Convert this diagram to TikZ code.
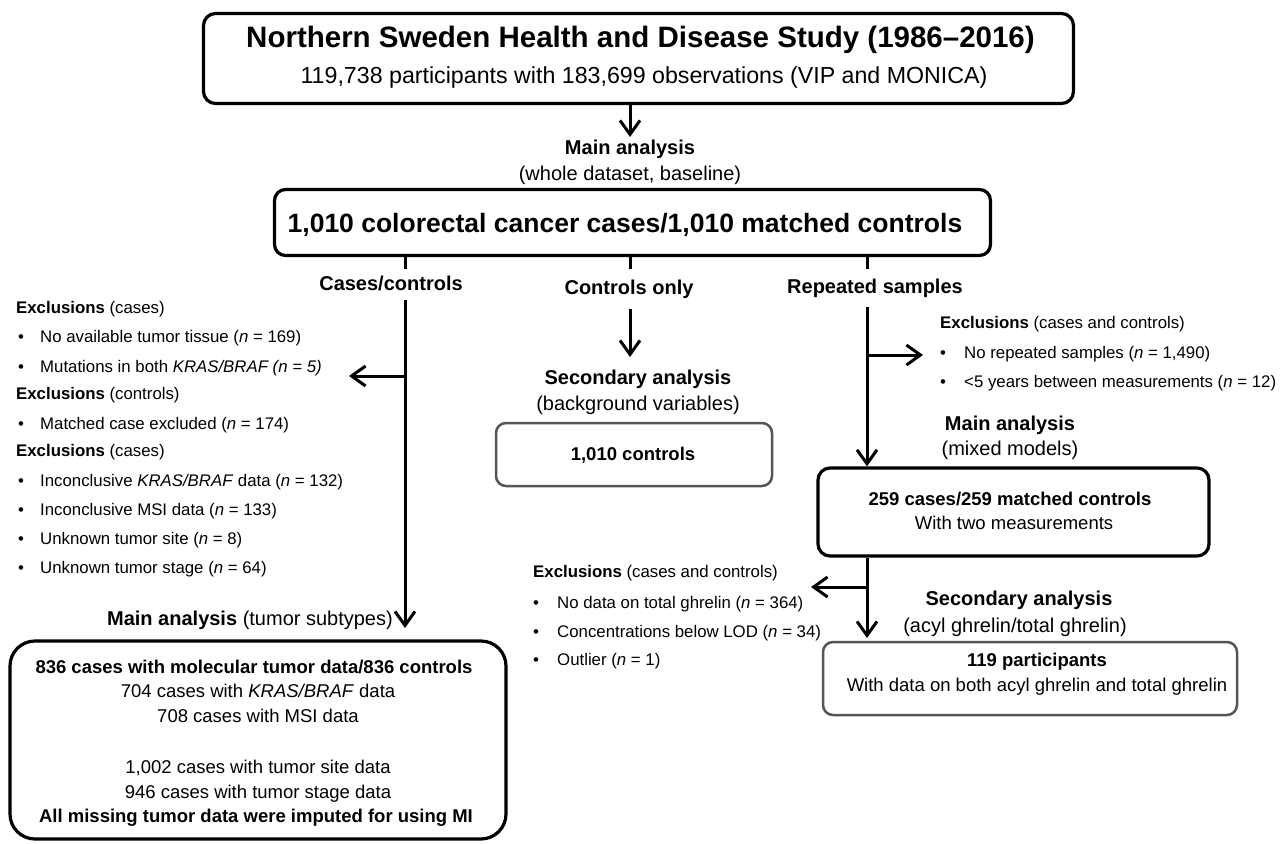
\documentclass[tikz,border=0pt]{standalone}
\usepackage{fontspec}
\setmainfont{Liberation Sans}
\usetikzlibrary{arrows.meta}
\definecolor{boxgray}{RGB}{85,85,85}
\newcommand\fsTitle{\fontsize{29.5}{34}\selectfont\bfseries}
\newcommand\fsSub{\fontsize{23.2}{28}\selectfont}
\newcommand\fsCoh{\fontsize{26.5}{30}\selectfont\bfseries}
\newcommand\fsLbl{\fontsize{20}{24}\selectfont}
\newcommand\fsExc{\fontsize{16.8}{20}\selectfont}
\newcommand\fsBox{\fontsize{18.5}{22}\selectfont}
% bullet item: name, bullet x, text x, baseline y, text
\newcommand\bitem[5]{%
  \node[exc,anchor=base] (#1b) at (#2,#4) {\textbullet};
  \node[exc,anchor=base west] (#1) at (#3,#4) {#5};}
\begin{document}
\begin{tikzpicture}[x=1pt,y=-1pt,
  box/.style={draw=black, line width=3.2pt, inner sep=0pt},
  gbox/.style={draw=boxgray, line width=2.5pt, inner sep=0pt, rounded corners=10pt},
  conn/.style={line width=3pt},
  arr/.style={conn,-{Straight Barb[length=14pt,width=20pt]}},
  exc/.style={font=\fsExc, inner sep=0pt},
  lbl/.style={font=\fsLbl, inner sep=0pt, anchor=base},
  btxt/.style={font=\fsBox, inner sep=0pt, anchor=base}]
\useasboundingbox (0,0) rectangle (1281,843);

% ---------- boxes ----------
\node[box, rounded corners=12pt, minimum width=870pt, minimum height=90pt] (top) at (638.5,58.5) {};
\node[inner sep=0pt, anchor=base, font=\fsTitle] (title) at (640.5,48) {Northern Sweden Health and Disease Study (1986--2016)};
\node[inner sep=0pt, anchor=base, font=\fsSub] (subtitle) at (644,83) {119,738 participants with 183,699 observations (VIP and MONICA)};

\node[box, rounded corners=11pt, minimum width=716pt, minimum height=66pt] (cohort) at (632.5,222.5) {};
\node[inner sep=0pt, anchor=base, font=\fsCoh] (cohorttxt) at (625,232) {1,010 colorectal cancer cases/1,010 matched controls};

\node[gbox, minimum width=276pt, minimum height=63pt] (ctrl) at (634,454.5) {};
\node[btxt, font=\fsBox\bfseries] (ctrltxt) at (633,460) {1,010 controls};

\node[box, rounded corners=12pt, minimum width=391pt, minimum height=88pt] (rep) at (1013.5,512) {};
\node[btxt, font=\fsBox\bfseries] (rep1) at (1010,505) {259 cases/259 matched controls};
\node[btxt] (rep2) at (1014,529) {With two measurements};

\node[gbox, minimum width=414pt, minimum height=73pt] (acyl) at (1030,678.5) {};
\node[btxt, font=\fsBox\bfseries] (acyl1) at (1037,666) {119 participants};
\node[btxt] (acyl2) at (1037,691) {With data on both acyl ghrelin and total ghrelin};

\node[box, rounded corners=25pt, minimum width=496pt, minimum height=198pt] (tum) at (258,740) {};
\node[btxt, font=\fsBox\bfseries] (tum1) at (254,673) {836 cases with molecular tumor data/836 controls};
\node[btxt] (tum2) at (258,697) {704 cases with \textit{KRAS/BRAF} data};
\node[btxt] (tum3) at (258,722) {708 cases with MSI data};
\node[btxt] (tum4) at (258,773) {1,002 cases with tumor site data};
\node[btxt] (tum5) at (258,798) {946 cases with tumor stage data};
\node[btxt, font=\fsBox\bfseries] (tum6) at (256,822) {All missing tumor data were imputed for using MI};

% ---------- labels ----------
\node[lbl, font=\fsLbl\bfseries] (mainlbl) at (630,154) {Main analysis};
\node[lbl] (mainsub) at (630,180) {(whole dataset, baseline)};
\node[lbl, font=\fsLbl\bfseries] (cc) at (391,290) {Cases/controls};
\node[lbl, font=\fsLbl\bfseries] (co) at (629,294) {Controls only};
\node[lbl, font=\fsLbl\bfseries] (rs) at (875,293) {Repeated samples};
\node[lbl, font=\fsLbl\bfseries] (sec1) at (638,384) {Secondary analysis};
\node[lbl] (sec1sub) at (638,410) {(background variables)};
\node[lbl, font=\fsLbl\bfseries] (ma2) at (1010,430) {Main analysis};
\node[lbl] (ma2sub) at (1010,455) {(mixed models)};
\node[lbl, font=\fsLbl\bfseries] (sec2) at (1019,605) {Secondary analysis};
\node[lbl] (sec2sub) at (1015,632) {(acyl ghrelin/total ghrelin)};
\node[lbl, anchor=base east] (tumlbl) at (393,625) {\textbf{Main analysis} (tumor subtypes)};

% ---------- exclusions (left) ----------
\node[exc, anchor=base west] (exL1) at (16,313) {\textbf{Exclusions} (cases)};
\bitem{eL1}{21}{40}{342}{No available tumor tissue (\textit{n} = 169)}
\bitem{eL2}{21}{40}{372}{Mutations in both \textit{KRAS/BRAF (n = 5)}}
\node[exc, anchor=base west] (exL2) at (16,399) {\textbf{Exclusions} (controls)};
\bitem{eL3}{21}{40}{429}{Matched case excluded (\textit{n} = 174)}
\node[exc, anchor=base west] (exL3) at (16,456) {\textbf{Exclusions} (cases)};
\bitem{eL4}{21}{40}{486}{Inconclusive \textit{KRAS/BRAF} data (\textit{n} = 132)}
\bitem{eL5}{21}{40}{515}{Inconclusive MSI data (\textit{n} = 133)}
\bitem{eL6}{21}{40}{544}{Unknown tumor site (\textit{n} = 8)}
\bitem{eL7}{21}{40}{573}{Unknown tumor stage (\textit{n} = 64)}

% ---------- exclusions (right) ----------
\node[exc, anchor=base west] (exR) at (940,328) {\textbf{Exclusions} (cases and controls)};
\bitem{eR1}{943}{964}{358}{No repeated samples (\textit{n} = 1,490)}
\bitem{eR2}{943}{964}{387}{<5 years between measurements (\textit{n} = 12)}

% ---------- exclusions (bottom middle) ----------
\node[exc, anchor=base west] (exB) at (533,577) {\textbf{Exclusions} (cases and controls)};
\bitem{eB1}{536}{557}{608}{No data on total ghrelin (\textit{n} = 364)}
\bitem{eB2}{536}{557}{637}{Concentrations below LOD (\textit{n} = 34)}
\bitem{eB3}{536}{557}{665}{Outlier (\textit{n} = 1)}

% ---------- connector coordinates ----------
\coordinate (lineL) at (405,300);
\coordinate (tipL) at (405,628);
\coordinate (brL) at (405,376);
\coordinate (tipBrL) at (349,376);
\coordinate (lineM) at (630,309);
\coordinate (tipM) at (630,357);
\coordinate (lineR) at (867,307);
\coordinate (brR) at (867,355);
\coordinate (tipBrR) at (923,355);
\coordinate (brB) at (867,587);
\coordinate (tipBrB) at (811,587);
\coordinate (tipTop) at (630,137);
\coordinate (tipAcyl) at (867,638);

% ---------- connectors ----------
\draw[arr] (mainlbl.north |- top.south) -- (tipTop);
\draw[conn] (cohort.south -| lineL) -- ++(0,12);
\draw[conn] (cohort.south -| lineM) -- ++(0,12);
\draw[conn] (cohort.south -| lineR) -- ++(0,12);
\draw[arr] (lineL) -- (tipL);
\draw[arr] (brL) -- (tipBrL);
\draw[arr] (lineM) -- (tipM);
\draw[arr] (lineR) -- (rep.north -| lineR);
\draw[arr] (brR) -- (tipBrR);
\draw[arr] (rep.south -| lineR) -- (tipAcyl);
\draw[arr] (brB) -- (tipBrB);
\end{tikzpicture}
\end{document}
